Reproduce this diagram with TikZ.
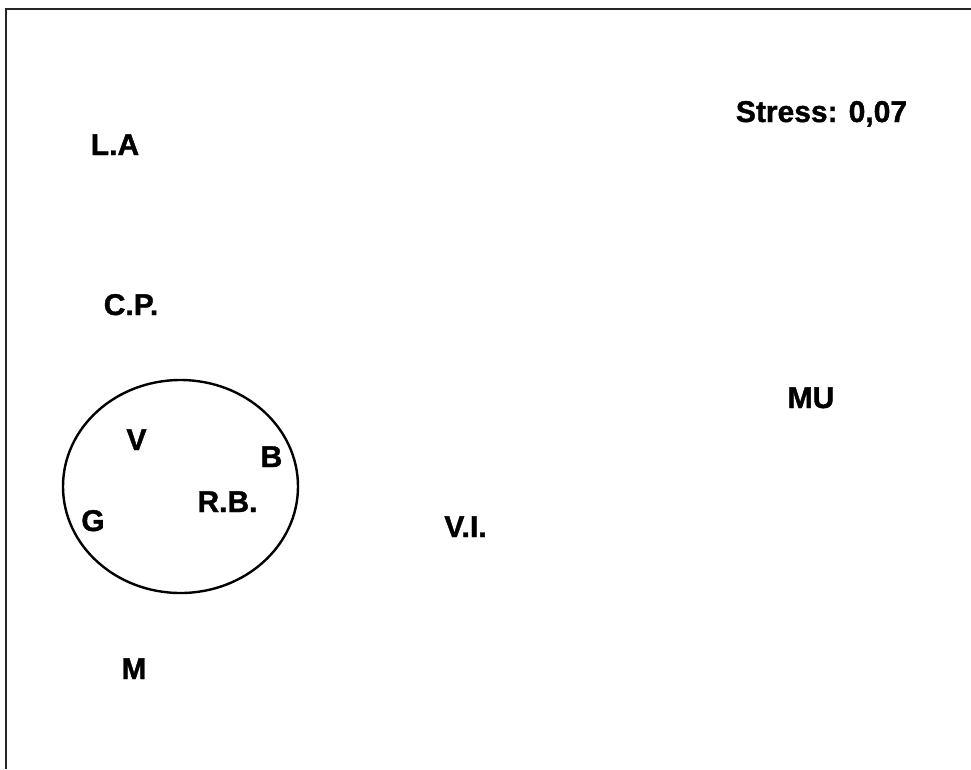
\documentclass[tikz,border=0pt]{standalone}
\usepackage{fontspec}
\setmainfont{Liberation Sans}[BoldFeatures={FakeBold=1.3}]
\begin{document}
\begin{tikzpicture}[x=1pt,y=-1pt,
  lbl/.style={font=\fontsize{30}{36}\selectfont\bfseries, inner sep=0pt, anchor=base},
  frameline/.style={line width=2pt, draw=black!85},
  cluster/.style={line width=2.4pt}]
\useasboundingbox (0,0) rectangle (971,769);
\fill[white] (0,0) rectangle (971,769);
\draw[frameline] (6,769) -- (6,9) -- (971,9);
\draw[cluster] (180.5,486.5) ellipse [x radius=117.5, y radius=106.5];
\node[lbl] (stress) at (821.5,122) {Stress: 0,07};
\node[lbl] (la) at (115,155) {L.A};
\node[lbl] (cp) at (131,315) {C.P.};
\node[lbl] (mu) at (811,408) {MU};
\node[lbl] (v) at (136.5,450) {V};
\node[lbl] (b) at (271.5,467) {B};
\node[lbl] (rb) at (227.5,512) {R.B.};
\node[lbl] (g) at (93,531) {G};
\node[lbl] (vi) at (465.5,537) {V.I.};
\node[lbl] (m) at (134,679) {M};
\end{tikzpicture}
\end{document}
